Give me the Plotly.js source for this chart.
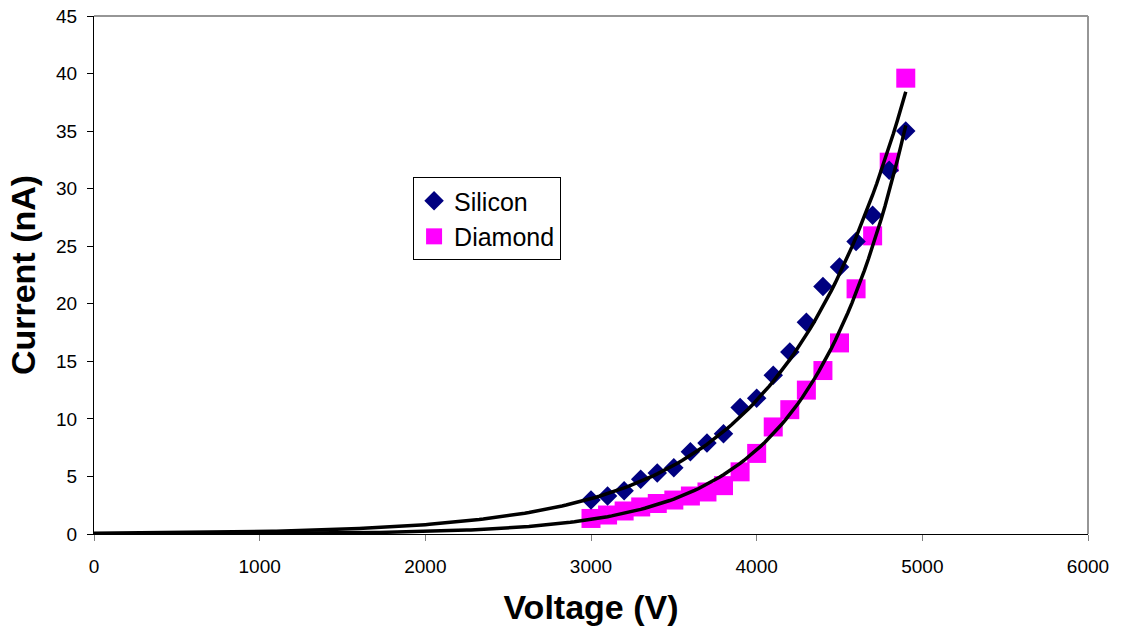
<!DOCTYPE html>
<html>
<head>
<meta charset="utf-8">
<script src="https://cdn.plot.ly/plotly-3.0.1.min.js"></script>
<style>html,body{margin:0;padding:0;background:#fff;}#chart{width:1123px;height:633px;}</style>
</head>
<body>
<div id="chart"></div>
<script>
// Voltage (V)
var voltage = [3000,3100,3200,3300,3400,3500,3600,3700,3800,3900,4000,4100,4200,4300,4400,4500,4600,4700,4800,4900];
// Current (nA)
var silicon = [2.95,3.3,3.75,4.75,5.3,5.75,7.15,7.9,8.7,11.0,11.8,13.8,15.8,18.4,21.5,23.2,25.4,27.7,31.6,35.0];
var diamond = [1.35,1.65,2.0,2.35,2.65,2.95,3.3,3.65,4.2,5.4,7.0,9.3,10.8,12.5,14.2,16.6,21.3,25.9,32.3,39.6];
var xTickVals = [0,1000,2000,3000,4000,5000,6000];
var yTickVals = [0,5,10,15,20,25,30,35,40,45];

// Exponential trendline (least squares on ln y), as a spreadsheet would fit it
function expFit(xs, ys) {
  var n = xs.length, sx = 0, sy = 0, sxx = 0, sxy = 0;
  for (var i = 0; i < n; i++) {
    var ly = Math.log(ys[i]);
    sx += xs[i]; sy += ly; sxx += xs[i]*xs[i]; sxy += xs[i]*ly;
  }
  var b = (n*sxy - sx*sy) / (n*sxx - sx*sx);
  var a = Math.exp((sy - b*sx) / n);
  return function (x) { return a*Math.exp(b*x); };
}
var fitX = [];
for (var v = 0; v <= 4900; v += 25) fitX.push(v);
var fSi = expFit(voltage, silicon), fDi = expFit(voltage, diamond);
var fitSi = fitX.map(fSi), fitDi = fitX.map(fDi);

var traces = [
  {x: voltage, y: diamond, mode: 'markers', name: 'Diamond', type: 'scatter',
   marker: {symbol: 'square', size: 19, color: '#FF00FF'}},
  {x: voltage, y: silicon, mode: 'markers', name: 'Silicon', type: 'scatter',
   marker: {symbol: 'diamond', size: 15, color: '#000080'}},
  {x: fitX, y: fitSi, mode: 'lines', showlegend: false, hoverinfo: 'skip',
   line: {color: '#000000', width: 3.5}},
  {x: fitX, y: fitDi, mode: 'lines', showlegend: false, hoverinfo: 'skip',
   line: {color: '#000000', width: 3.5}}
];

var layout = {
  width: 1123, height: 633,
  margin: {l: 94, r: 35, t: 16, b: 99, pad: 0},
  paper_bgcolor: '#ffffff', plot_bgcolor: '#ffffff',
  font: {family: 'Liberation Sans, Arial, sans-serif', color: '#000000', size: 19},
  showlegend: true,
  legend: {
    x: 0.321, y: 0.689, xanchor: 'left', yanchor: 'top',
    traceorder: 'reversed',
    bordercolor: '#000000', borderwidth: 1, bgcolor: '#ffffff',
    font: {size: 25, family: 'Liberation Sans, Arial, sans-serif'},
    itemwidth: 30, tracegroupgap: 0
  },
  xaxis: {
    range: [0, 6000], tickvals: xTickVals, ticktext: xTickVals.map(String),
    showgrid: false, zeroline: false,
    showline: true, linecolor: '#000000', linewidth: 1,
    ticks: 'outside', ticklen: 6, tickcolor: '#808080', tickwidth: 1,
    ticklabelstandoff: 9,
    tickfont: {size: 19},
    title: {text: '<b>Voltage (V)</b>', font: {size: 34}, standoff: 19},
    automargin: false
  },
  yaxis: {
    range: [0, 45], tickvals: yTickVals, ticktext: yTickVals.map(String),
    showgrid: false, zeroline: false,
    showline: true, linecolor: '#000000', linewidth: 1,
    ticks: 'outside', ticklen: 6, tickcolor: '#000000', tickwidth: 1,
    ticklabelstandoff: 6,
    tickfont: {size: 19},
    title: {text: '<b>Current (nA)</b>', font: {size: 34}, standoff: 10},
    automargin: false
  },
  shapes: [
    {type: 'line', xref: 'paper', yref: 'paper', x0: 0, x1: 1, y0: 1, y1: 1,
     line: {color: '#969696', width: 2}},
    {type: 'line', xref: 'paper', yref: 'paper', x0: 1, x1: 1, y0: 0, y1: 1,
     line: {color: '#969696', width: 2}}
  ]
};

Plotly.newPlot('chart', traces, layout, {displayModeBar: false, staticPlot: true});
</script>
</body>
</html>
